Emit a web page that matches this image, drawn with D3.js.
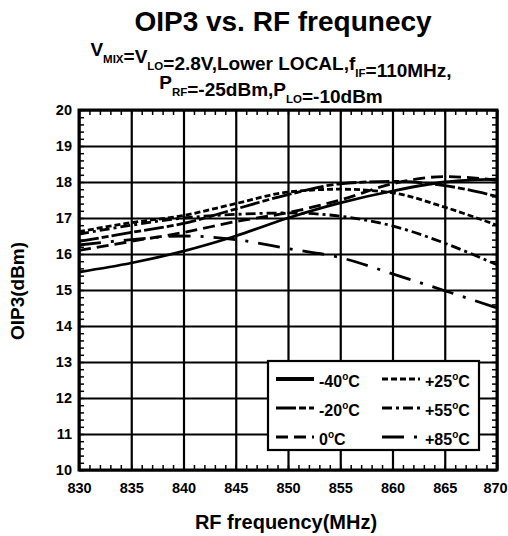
<!DOCTYPE html>
<html>
<head>
<meta charset="utf-8">
<script src="https://cdn.jsdelivr.net/npm/d3@7"></script>
<style>
body { margin: 0; background: #fff; }
text { font-family: "Liberation Sans", Arial, sans-serif; font-weight: bold; fill: #000; }
</style>
</head>
<body>
<svg id="chart"></svg>
<script>
// RF frequency (MHz)
var freq = [830, 835, 840, 845, 850, 855, 860, 865, 870];

// OIP3 (dBm) per temperature
var oipM40 = [15.5, 15.75, 16.08, 16.5, 17.0, 17.42, 17.75, 18.0, 18.08];
var oipM20 = [16.35, 16.6, 16.85, 17.25, 17.65, 17.95, 18.02, 17.9, 17.6];
var oip0 = [16.1, 16.35, 16.6, 16.9, 17.15, 17.5, 17.95, 18.15, 18.05];
var oipP25 = [16.62, 16.87, 17.07, 17.4, 17.72, 17.8, 17.7, 17.3, 16.8];
var oipP55 = [16.55, 16.8, 17.0, 17.1, 17.14, 17.05, 16.78, 16.3, 15.7];
var oipP85 = [16.25, 16.4, 16.5, 16.4, 16.15, 15.9, 15.45, 14.98, 14.5];

var tempLabels = ["-40", "-20", "0", "+25", "+55", "+85"];
var xTicks = [830, 835, 840, 845, 850, 855, 860, 865, 870];
var yTicks = [10, 11, 12, 13, 14, 15, 16, 17, 18, 19, 20];

var svgWidth = 508, svgHeight = 536;
var margin = { top: 110, right: 11, bottom: 66, left: 79 };
var width = svgWidth - margin.left - margin.right;
var height = svgHeight - margin.top - margin.bottom;

var svg = d3.select("#chart")
            .attr("width", svgWidth)
            .attr("height", svgHeight);

var g = svg.append("g")
           .attr("transform", "translate(" + margin.left + "," + margin.top + ")");

var x = d3.scaleLinear().domain([830, 870]).range([0, width]);
var y = d3.scaleLinear().domain([10, 20]).range([height, 0]);

// grid lines
g.append("g")
 .attr("class", "grid")
 .attr("transform", "translate(0," + height + ")")
 .call(d3.axisBottom(x).tickValues(xTicks).tickSize(-height).tickFormat(""));
g.append("g")
 .attr("class", "grid")
 .call(d3.axisLeft(y).tickValues(yTicks).tickSize(-width).tickFormat(""));
g.selectAll(".grid line").attr("stroke", "#000").attr("stroke-width", 2.2);
g.selectAll(".grid .domain").remove();

// minor ticks on all four sides, pointing inwards
var minorX = d3.range(830, 870.01, 1);
var minorY = d3.range(10, 20.01, 0.2);
var minor = g.append("g").attr("class", "minor");
minor.append("g").attr("transform", "translate(0," + height + ")")
     .call(d3.axisBottom(x).tickValues(minorX).tickSize(-5).tickFormat(""));
minor.append("g")
     .call(d3.axisTop(x).tickValues(minorX).tickSize(-5).tickFormat(""));
minor.append("g")
     .call(d3.axisLeft(y).tickValues(minorY).tickSize(-5).tickFormat(""));
minor.append("g").attr("transform", "translate(" + width + ",0)")
     .call(d3.axisRight(y).tickValues(minorY).tickSize(-5).tickFormat(""));
minor.selectAll("line").attr("stroke", "#000").attr("stroke-width", 1.5);
minor.selectAll(".domain").remove();

// tick labels
var xLab = g.append("g")
            .attr("transform", "translate(0," + height + ")")
            .call(d3.axisBottom(x).tickValues(xTicks).tickSize(0).tickPadding(13));
var yLab = g.append("g")
            .call(d3.axisLeft(y).tickValues(yTicks).tickSize(0).tickPadding(7).tickFormat(d3.format("d")));
[xLab, yLab].forEach(function(a) {
    a.select(".domain").remove();
    a.selectAll("text").attr("font-size", 14.5).attr("font-family", null).attr("fill", "#000");
});
// keep the last label inside the page
xLab.selectAll("text").filter(function(d) { return d === 870; }).attr("dx", -2);

// series
var series = [
    { name: tempLabels[0], values: oipM40, dash: null },
    { name: tempLabels[1], values: oipM20, dash: "20,3,7,3" },
    { name: tempLabels[2], values: oip0, dash: "12,6" },
    { name: tempLabels[3], values: oipP25, dash: "6,3" },
    { name: tempLabels[4], values: oipP55, dash: "10,4,3,4" },
    { name: tempLabels[5], values: oipP85, dash: "22,10,3,10" }
];

var line = d3.line()
             .x(function(d, i) { return x(freq[i]); })
             .y(function(d) { return y(d); })
             .curve(d3.curveMonotoneX);

var plot = g.append("g");
series.forEach(function(s) {
    plot.append("path")
        .datum(s.values)
        .attr("fill", "none")
        .attr("stroke", "#000")
        .attr("stroke-width", 2.8)
        .attr("stroke-dasharray", s.dash)
        .attr("d", line);
});

// frame
g.append("rect")
 .attr("width", width).attr("height", height)
 .attr("fill", "none").attr("stroke", "#000").attr("stroke-width", 3);

// legend
var lx = 268 - margin.left, ly = 361 - margin.top;
var legend = g.append("g").attr("transform", "translate(" + lx + "," + ly + ")");
legend.append("rect")
      .attr("width", 211).attr("height", 89)
      .attr("fill", "#fff").attr("stroke", "#000").attr("stroke-width", 2.2);
series.forEach(function(s, i) {
    var col = Math.floor(i / 3), row = i % 3;
    var sx = 8 + col * 106, sy = 18 + row * 29;
    legend.append("line")
          .attr("x1", sx).attr("x2", sx + 38)
          .attr("y1", sy).attr("y2", sy)
          .attr("stroke", "#000")
          .attr("stroke-width", i === 0 ? 4 : 3)
          .attr("stroke-dasharray", s.dash);
    var t = legend.append("text")
                  .attr("x", sx + 43).attr("y", sy + 8)
                  .attr("font-size", 16);
    t.append("tspan").text(s.name);
    t.append("tspan").attr("font-size", 10).attr("dy", -7).text("o");
    t.append("tspan").attr("dy", 7).text("C");
});

// titles
svg.append("text")
   .attr("x", 283).attr("y", 31)
   .attr("text-anchor", "middle")
   .attr("font-size", 28)
   .text("OIP3 vs. RF frequnecy");

function subLine(yPos, parts) {
    var t = svg.append("text")
               .attr("x", 271).attr("y", yPos)
               .attr("text-anchor", "middle")
               .attr("font-size", 19);
    parts.forEach(function(p) {
        if (p.sub) {
            t.append("tspan").attr("font-size", 11.5).attr("dy", 7).text(p.sub);
            t.append("tspan").attr("dy", -7).text("");
        } else {
            t.append("tspan").text(p.txt);
        }
    });
}
subLine(56, [{ txt: "V" }, { sub: "MIX" }, { txt: "=V" }, { sub: "LO" },
             { txt: "=2.8V,Lower LOCAL,f" }, { sub: "IF" }, { txt: "=110MHz," }]);
subLine(89, [{ txt: "P" }, { sub: "RF" }, { txt: "=-25dBm,P" }, { sub: "LO" },
             { txt: "=-10dBm" }]);

svg.append("text")
   .attr("x", 286).attr("y", 529)
   .attr("text-anchor", "middle")
   .attr("font-size", 20)
   .text("RF frequency(MHz)");

svg.append("text")
   .attr("transform", "translate(24,291) rotate(-90)")
   .attr("text-anchor", "middle")
   .attr("font-size", 19)
   .text("OIP3(dBm)");
</script>
</body>
</html>
